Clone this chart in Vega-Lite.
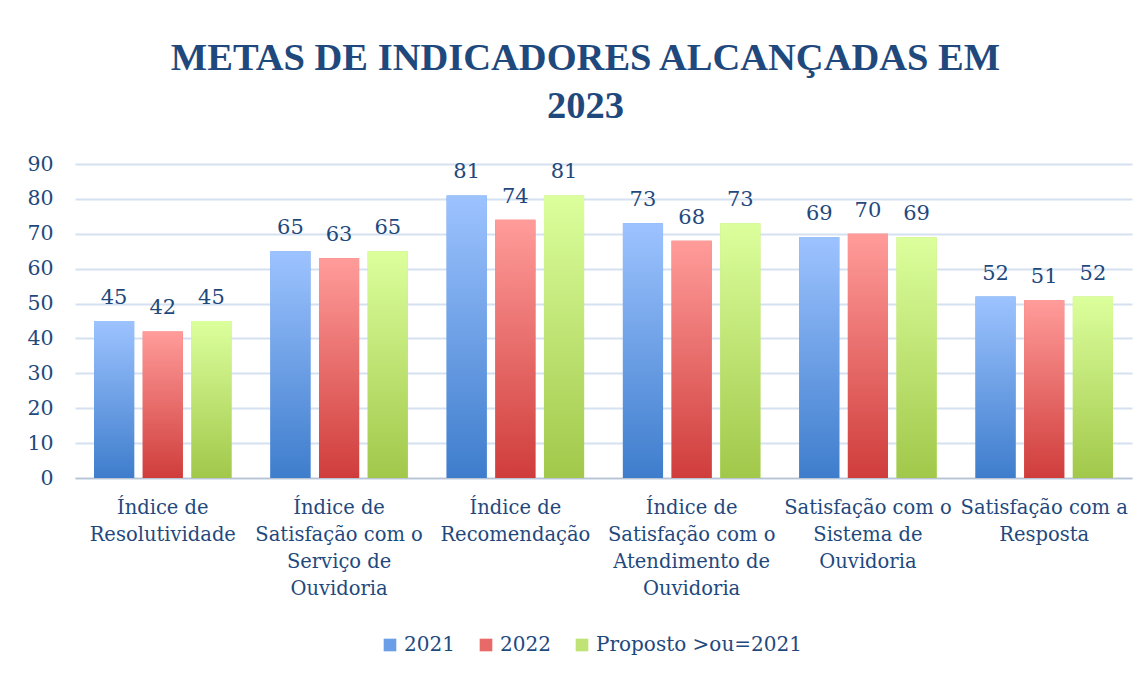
{
  "$schema": "https://vega.github.io/schema/vega-lite/v6.json",
  "width": 1057,
  "height": 314,
  "autosize": "none",
  "padding": {"left": 75, "top": 164, "right": 12, "bottom": 197},
  "background": "white",
  "title": {
    "text": ["METAS DE INDICADORES ALCANÇADAS EM", "2023"],
    "font": "Liberation Serif",
    "fontSize": 38.5,
    "fontWeight": "bold",
    "color": "#1F497D",
    "lineHeight": 48,
    "anchor": "middle",
    "offset": 28,
    "dx": -18
  },
  "data": {
    "values": [
      {"indicador": "Índice de Resolutividade", "serie": "2021", "valor": 45},
      {"indicador": "Índice de Resolutividade", "serie": "2022", "valor": 42},
      {"indicador": "Índice de Resolutividade", "serie": "Proposto >ou=2021", "valor": 45},
      {"indicador": "Índice de Satisfação com o Serviço de Ouvidoria", "serie": "2021", "valor": 65},
      {"indicador": "Índice de Satisfação com o Serviço de Ouvidoria", "serie": "2022", "valor": 63},
      {"indicador": "Índice de Satisfação com o Serviço de Ouvidoria", "serie": "Proposto >ou=2021", "valor": 65},
      {"indicador": "Índice de Recomendação", "serie": "2021", "valor": 81},
      {"indicador": "Índice de Recomendação", "serie": "2022", "valor": 74},
      {"indicador": "Índice de Recomendação", "serie": "Proposto >ou=2021", "valor": 81},
      {"indicador": "Índice de Satisfação com o Atendimento de Ouvidoria", "serie": "2021", "valor": 73},
      {"indicador": "Índice de Satisfação com o Atendimento de Ouvidoria", "serie": "2022", "valor": 68},
      {"indicador": "Índice de Satisfação com o Atendimento de Ouvidoria", "serie": "Proposto >ou=2021", "valor": 73},
      {"indicador": "Satisfação com o Sistema de Ouvidoria", "serie": "2021", "valor": 69},
      {"indicador": "Satisfação com o Sistema de Ouvidoria", "serie": "2022", "valor": 70},
      {"indicador": "Satisfação com o Sistema de Ouvidoria", "serie": "Proposto >ou=2021", "valor": 69},
      {"indicador": "Satisfação com a Resposta", "serie": "2021", "valor": 52},
      {"indicador": "Satisfação com a Resposta", "serie": "2022", "valor": 51},
      {"indicador": "Satisfação com a Resposta", "serie": "Proposto >ou=2021", "valor": 52}
    ]
  },
  "encoding": {
    "x": {
      "field": "indicador",
      "type": "nominal",
      "sort": null,
      "title": null,
      "scale": {"paddingInner": 0.22, "paddingOuter": 0.108},
      "axis": {
        "labelAngle": 0,
        "labelFont": "DejaVu Serif",
        "labelFontSize": 19.5,
        "labelColor": "#1F497D",
        "labelLineHeight": 27,
        "labelPadding": 20,
        "labelLimit": 300,
        "labelBaseline": "top",
        "ticks": false,
        "domainColor": "#b8c2d2",
        "domainWidth": 1.5,
        "grid": false,
        "labelExpr": "datum.value == 'Índice de Resolutividade' ? ['Índice de', 'Resolutividade'] : datum.value == 'Índice de Satisfação com o Serviço de Ouvidoria' ? ['Índice de', 'Satisfação com o', 'Serviço de', 'Ouvidoria'] : datum.value == 'Índice de Recomendação' ? ['Índice de', 'Recomendação'] : datum.value == 'Índice de Satisfação com o Atendimento de Ouvidoria' ? ['Índice de', 'Satisfação com o', 'Atendimento de', 'Ouvidoria'] : datum.value == 'Satisfação com o Sistema de Ouvidoria' ? ['Satisfação com o', 'Sistema de', 'Ouvidoria'] : ['Satisfação com a', 'Resposta']"
      }
    },
    "xOffset": {
      "field": "serie",
      "type": "nominal",
      "sort": ["2021", "2022", "Proposto >ou=2021"],
      "scale": {"domain": ["2021", "2022", "Proposto >ou=2021"], "paddingInner": 0.175, "paddingOuter": 0}
    },
    "y": {
      "field": "valor",
      "type": "quantitative",
      "title": null,
      "scale": {"domain": [0, 90], "nice": false},
      "axis": {
        "values": [0, 10, 20, 30, 40, 50, 60, 70, 80, 90],
        "labelFont": "DejaVu Serif",
        "labelFontSize": 20.5,
        "labelColor": "#1F497D",
        "labelPadding": 22,
        "ticks": false,
        "domain": false,
        "gridColor": "#d5e1f1",
        "gridWidth": 2
      }
    }
  },
  "layer": [
    {
      "mark": {"type": "bar"},
      "encoding": {
        "color": {
          "field": "serie",
          "type": "nominal",
          "scale": {
            "domain": ["2021", "2022", "Proposto >ou=2021"],
            "range": ["#6a9ee6", "#e86a68", "#bfe374"]
          },
          "legend": {
            "title": null,
            "orient": "none",
            "direction": "horizontal",
            "legendX": 305,
            "legendY": 471,
            "symbolType": "square",
            "symbolSize": 160,
            "symbolStrokeWidth": 0,
            "labelFont": "DejaVu Serif",
            "labelFontSize": 20,
            "labelColor": "#1F497D",
            "labelLimit": 400,
            "columnPadding": 21,
            "labelOffset": 4
          }
        }
      }
    },
    {
      "transform": [{"filter": "datum.serie == '2021'"}],
      "mark": {"type": "bar", "color": {"gradient": "linear", "x1": 0, "y1": 0, "x2": 0, "y2": 1, "stops": [{"offset": 0, "color": "#9dc3ff"}, {"offset": 1, "color": "#3e7dcc"}]}}
    },
    {
      "transform": [{"filter": "datum.serie == '2022'"}],
      "mark": {"type": "bar", "color": {"gradient": "linear", "x1": 0, "y1": 0, "x2": 0, "y2": 1, "stops": [{"offset": 0, "color": "#ff9c9a"}, {"offset": 1, "color": "#cf3d3b"}]}}
    },
    {
      "transform": [{"filter": "datum.serie == 'Proposto >ou=2021'"}],
      "mark": {"type": "bar", "color": {"gradient": "linear", "x1": 0, "y1": 0, "x2": 0, "y2": 1, "stops": [{"offset": 0, "color": "#dcff9d"}, {"offset": 1, "color": "#a1c84a"}]}}
    },
    {
      "mark": {"type": "text", "font": "DejaVu Serif", "fontSize": 21, "color": "#1F497D", "baseline": "alphabetic", "dy": -17},
      "encoding": {
        "text": {"field": "valor", "type": "quantitative"}
      }
    }
  ],
  "config": {
    "view": {"stroke": null}
  }
}
